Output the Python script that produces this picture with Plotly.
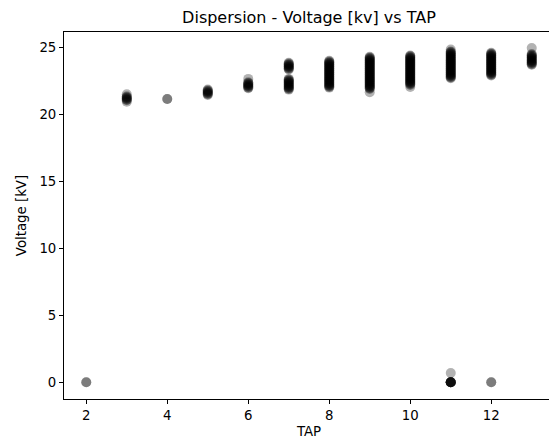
import plotly.graph_objects as go

# Voltage readings per TAP position (kV).
# Repeated values reflect overlapping readings (darker spots).
v_tap2 = [0.0, 0.0]
v_tap3 = [20.95, 21.05, 21.1, 21.15, 21.2, 21.25, 21.3, 21.35, 21.5]
v_tap4 = [21.15, 21.15]
v_tap5 = [21.45, 21.5, 21.55, 21.6, 21.65, 21.7, 21.75, 21.8, 21.85]
v_tap6 = [21.95, 22.0, 22.05, 22.1, 22.15, 22.2, 22.25, 22.3, 22.35, 22.4, 22.65]
v_tap7 = [21.85, 21.9, 21.95, 22.0, 22.05, 22.1, 22.15, 22.2, 22.25, 22.3,
          22.35, 22.4, 22.45, 22.5, 22.55, 22.6, 22.65,
          23.35, 23.4, 23.45, 23.5, 23.55, 23.6, 23.65, 23.7, 23.75, 23.8, 23.85]
v_tap8 = [22.0, 22.05, 22.1, 22.15, 22.2, 22.25, 22.3, 22.35, 22.4, 22.45,
          22.5, 22.55, 22.6, 22.65, 22.7, 22.75, 22.8, 22.85, 22.9, 22.95,
          23.0, 23.05, 23.1, 23.15, 23.2, 23.25, 23.3, 23.35, 23.4, 23.45,
          23.5, 23.55, 23.6, 23.65, 23.7, 23.75, 23.8, 23.85, 23.9, 23.95, 24.0]
v_tap9 = [21.65, 21.9, 21.95, 22.0, 22.05, 22.1, 22.15, 22.2, 22.25, 22.3,
          22.35, 22.4, 22.45, 22.5, 22.55, 22.6, 22.65, 22.7, 22.75, 22.8,
          22.85, 22.9, 22.95, 23.0, 23.05, 23.1, 23.15, 23.2, 23.25, 23.3,
          23.35, 23.4, 23.45, 23.5, 23.55, 23.6, 23.65, 23.7, 23.75, 23.8,
          23.85, 23.9, 23.95, 24.0, 24.05, 24.1, 24.15, 24.2, 24.25, 24.3]
v_tap10 = [22.05, 22.2, 22.25, 22.3, 22.35, 22.4, 22.45, 22.5, 22.55, 22.6,
           22.65, 22.7, 22.75, 22.8, 22.85, 22.9, 22.95, 23.0, 23.05, 23.1,
           23.15, 23.2, 23.25, 23.3, 23.35, 23.4, 23.45, 23.5, 23.55, 23.6,
           23.65, 23.7, 23.75, 23.8, 23.85, 23.9, 23.95, 24.0, 24.05, 24.1,
           24.15, 24.2, 24.25, 24.3, 24.35, 24.4]
v_tap11 = [22.7, 22.75, 22.8, 22.85, 22.9, 22.95, 23.0, 23.05, 23.1, 23.15,
           23.2, 23.25, 23.3, 23.35, 23.4, 23.45, 23.5, 23.55, 23.6, 23.65,
           23.7, 23.75, 23.8, 23.85, 23.9, 23.95, 24.0, 24.05, 24.1, 24.15,
           24.2, 24.25, 24.3, 24.35, 24.4, 24.45, 24.5, 24.55, 24.6, 24.65,
           24.7, 24.85,
           0.0, 0.0, 0.0, 0.0, 0.0, 0.0, 0.0, 0.0, 0.7]
v_tap12 = [22.9, 22.95, 23.0, 23.05, 23.1, 23.15, 23.2, 23.25, 23.3, 23.35,
           23.4, 23.45, 23.5, 23.55, 23.6, 23.65, 23.7, 23.75, 23.8, 23.85,
           23.9, 23.95, 24.0, 24.05, 24.1, 24.15, 24.2, 24.25, 24.3, 24.35,
           24.4, 24.45, 24.5, 24.55, 24.6, 0.0, 0.0]
v_tap13 = [24.95, 23.7, 23.75, 23.8, 23.85, 23.9, 23.95, 24.0, 24.05, 24.1,
           24.15, 24.2, 24.25, 24.3, 24.35, 24.4, 24.45, 24.5]

taps = [2, 3, 4, 5, 6, 7, 8, 9, 10, 11, 12, 13]
per_tap = [v_tap2, v_tap3, v_tap4, v_tap5, v_tap6, v_tap7, v_tap8, v_tap9,
           v_tap10, v_tap11, v_tap12, v_tap13]

x_vals, y_vals = [], []
for t, vs in zip(taps, per_tap):
    x_vals.extend([t] * len(vs))
    y_vals.extend(vs)

x_ticks = [2, 4, 6, 8, 10, 12]
y_ticks = [0, 5, 10, 15, 20, 25]

font = "DejaVu Sans"
fig = go.Figure(go.Scatter(
    x=x_vals, y=y_vals, mode="markers",
    marker=dict(color="rgba(0,0,0,0.3)", size=10, line=dict(width=0)),
    hoverinfo="x+y",
))

axis_common = dict(
    showgrid=False, zeroline=False, showline=True, mirror=True,
    linecolor="black", linewidth=1, ticks="outside", ticklen=4,
    tickcolor="black", automargin=False,
    tickfont=dict(family=font, size=13.3, color="black"),
)

# The page body adds an 8px offset, so the figure is 8px smaller each way.
fig.update_layout(
    width=549, height=431,
    margin=dict(l=56, r=3, t=24, b=40),
    paper_bgcolor="white", plot_bgcolor="white",
    showlegend=False,
    title=dict(text="Dispersion - Voltage [kv] vs TAP", x=0.5, xanchor="center",
               xref="paper", yref="container", y=0.978, yanchor="middle",
               font=dict(family=font, size=16, color="black")),
    xaxis=dict(range=[1.45, 13.55], tickvals=x_ticks,
               title=dict(text="TAP", standoff=11,
                          font=dict(family=font, size=13.3, color="black")),
               **axis_common),
    yaxis=dict(range=[-1.245, 26.15], tickvals=y_ticks,
               title=dict(text="Voltage [kV]", standoff=9,
                          font=dict(family=font, size=13.3, color="black")),
               **axis_common),
)

fig.write_html("out.html")
